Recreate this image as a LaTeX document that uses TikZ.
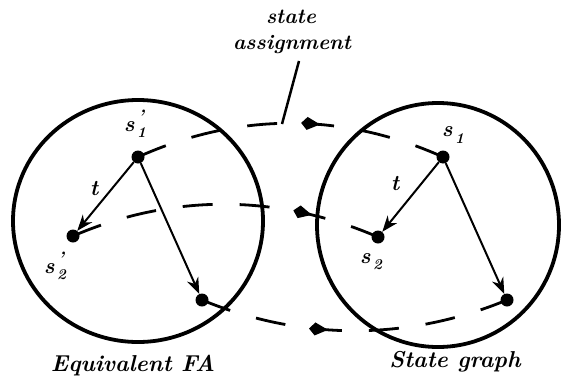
\documentclass[tikz,border=0pt]{standalone}
\usetikzlibrary{arrows.meta,decorations.markings}
\newcommand{\stlab}[2]{s\rlap{\raisebox{0.38em}{\fontsize{18}{18}\selectfont\,#1}}\raisebox{-0.28em}{\fontsize{15}{15}\selectfont\,#2}}
\begin{document}
\begin{tikzpicture}[x=1pt,y=-1pt,
  dot/.style={circle,fill=black,inner sep=0pt,minimum size=13pt},
  region/.style={draw,line width=3.8pt},
  trans/.style={line width=2pt,-{Stealth[length=16pt,width=12pt,inset=5pt]}},
  mapline/.style={line width=2.8pt,dash pattern=on 30pt off 27pt},
  midarrow/.style={postaction={decorate},decoration={markings,mark=at position #1 with {\arrow{Kite[length=19pt,width=13pt,inset=6pt]}}}},
  lbl/.style={font=\fontsize{22}{24}\selectfont\bfseries\itshape,inner sep=0pt},
  captext/.style={font=\fontsize{23}{26}\selectfont\bfseries\itshape,inner sep=0pt},
  anntext/.style={font=\fontsize{21}{24}\selectfont\bfseries\itshape,inner sep=0pt},
  leader/.style={line width=2.5pt}
]
\useasboundingbox (0,0) rectangle (561,388);
% regions
\draw[region] (138,221) ellipse [x radius=125pt, y radius=121pt];
\draw[region] (438,225) ellipse [x radius=121pt, y radius=122pt];
% states
\node[dot] (a1) at (138,157) {};
\node[dot] (a2) at (73,236) {};
\node[dot] (a3) at (202,300) {};
\node[dot] (b1) at (443,157) {};
\node[dot] (b2) at (378,237) {};
\node[dot] (b3) at (507,300) {};
% state assignment mappings
\draw[mapline,midarrow=187pt] (a1.center) .. controls +(100,-45) and +(-100,-45) .. (b1.center);
\draw[mapline,midarrow=244pt] (a2.center) .. controls +(100,-43) and +(-100,-43) .. (b2.center);
\draw[mapline,midarrow=130pt] (a3.center) .. controls +(100,41) and +(-100,41) .. (b3.center);
% transitions
\draw[trans] (a1) -- (a2);
\draw[trans] (a1) -- (a3);
\draw[trans] (b1) -- (b2);
\draw[trans] (b1) -- (b3);
% labels
\node[lbl] (la1) at (135,124) {\stlab{'}{1}};
\node[lbl] (la2) at (55,266) {\stlab{'}{2}};
\node[lbl] (lb1) at (453,135) {\stlab{}{1}};
\node[lbl] (lb2) at (371,262) {\stlab{}{2}};
\node[lbl] (ta) at (94,189) {t};
\node[lbl] (tb) at (395,184) {t};
% captions
\node[captext] (fa) at (133,366) {Equivalent FA};
\node[captext] (sg) at (455,362) {State graph};
% annotation
\node[anntext] (st1) at (291,17) {state};
\node[anntext] (st2) at (292,45) {assignment};
\coordinate (lead) at (282,124);
\draw[leader] (299,61) -- (lead);
\end{tikzpicture}
\end{document}
